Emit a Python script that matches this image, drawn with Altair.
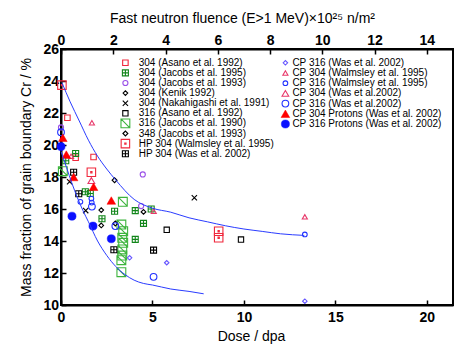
import altair as alt
import pandas as pd

FONT = "Liberation Sans"
X_DOMAIN = [0, 21.43]
Y_DOMAIN = [10, 26]
FLUENCE_DOMAIN = [0, 15]
X_TICKS = [0, 5, 10, 15, 20]
Y_TICKS = [10, 12, 14, 16, 18, 20, 22, 24, 26]
FLUENCE_TICKS = [0, 2, 4, 6, 8, 10, 12, 14]

# ---- data series (dose / dpa, Cr mass fraction / %) ----
asano304_x = [0.35, 0.8, 1.78]
asano304_y = [21.7, 19.2, 19.25]
jacobs95_x = [0.8, 0.26, 1.33, 1.6, 2.93, 2.24, 4.06, 4.51, 4.06, 4.93]
jacobs95_y = [19.47, 19.02, 17.08, 16.97, 15.86, 15.39, 15.9, 15.1, 14.1, 16.0]
jacobs93_x = [0.0, 4.47, 4.38]
jacobs93_y = [21.1, 18.16, 16.18]
kenik_x = [2.2, 2.2, 4.51]
kenik_y = [15.93, 14.97, 15.82]
nakahigashi_x = [0.47, 1.35, 7.29]
nakahigashi_y = [17.7, 15.9, 16.7]
asano316_x = [5.78, 9.84]
asano316_y = [14.7, 14.09]
jacobs90_x = [0.1, 3.38, 3.3, 3.4, 3.35, 3.4, 3.35, 3.35, 3.3, 3.3]
jacobs90_y = [18.36, 16.45, 15.03, 14.61, 14.2, 13.89, 13.47, 13.09, 12.8, 12.05]
jacobs348_x = [2.93, 2.97]
jacobs348_y = [17.8, 15.1]
hpwalmsley_x = [0.05, 1.66, 8.62, 8.62]
hpwalmsley_y = [23.74, 18.3, 14.61, 14.2]
hpwas_x = [0.69, 0.97, 2.89, 5.06]
hpwas_y = [18.3, 16.95, 13.45, 13.43]
cp316was_d_x = [3.75, 5.78, 13.33]
cp316was_d_y = [12.95, 12.64, 10.24]
cp304walmsley_x = [1.69, 0.55, 5.07, 13.33]
cp304walmsley_y = [21.39, 19.3, 15.86, 15.51]
cp316walmsley_x = [1.06, 1.66, 1.68, 13.33]
cp316walmsley_y = [16.45, 16.65, 16.4, 14.41]
cp304was_x = [1.66]
cp304was_y = [17.78]
cp316was_x = [0.0, 1.69, 2.97, 5.06]
cp316was_y = [20.8, 16.15, 14.93, 11.76]
cp304prot_x = [0.1, 0.29, 0.69, 1.78, 2.75]
cp304prot_y = [20.45, 19.4, 18.0, 17.39, 16.53]
cp316prot_x = [0.0, 0.6, 1.75, 2.75]
cp316prot_y = [19.9, 15.55, 14.93, 14.14]

# ---- fitted curves ----
upper_x = [0.05, 0.5, 1.0, 1.5, 2.0, 2.5, 3.0, 4.0, 5.0, 6.0, 7.0, 8.0, 9.0, 10.0, 11.0, 12.0, 13.3]
upper_y = [23.9, 22.7, 21.5, 20.3, 19.3, 18.5, 17.8, 16.6, 16.05, 15.8, 15.45, 15.2, 14.95, 14.75, 14.6, 14.45, 14.35]
lower_x = [0.0, 0.3, 0.6, 0.9, 1.2, 1.5, 2.0, 2.5, 3.0, 3.5, 4.0, 4.5, 5.0, 6.0, 7.0, 7.8]
lower_y = [19.6, 18.6, 17.6, 16.7, 15.9, 15.2, 14.0, 13.1, 12.4, 11.9, 11.55, 11.35, 11.25, 11.0, 10.85, 10.7]

# ---- symbol shapes ----
SQ = "M-1,-1L1,-1L1,1L-1,1Z"
SQ_PLUS = SQ + "M0,-1L0,1M-1,0L1,0"
SQ_DIAG = SQ + "M-1,-1L1,1"
SQ_DOT = SQ + "M-0.15,-0.15L0.15,-0.15L0.15,0.15L-0.15,0.15Z"
XSHAPE = "M-1,-1L1,1M-1,1L1,-1"

RED = "#f0283c"
PINK = "#e8386a"
GREEN = "#12861a"
LGREEN = "#3cb43c"
PURPLE = "#9a50e8"
VIOLET = "#6656ff"
BLUE = "#2030ff"
BLACK = "#000000"

series = [
    ("304 (Asano et al. 1992)", asano304_x, asano304_y, SQ, RED, False, 30, 0, 0),
    ("304 (Jacobs et al. 1995)", jacobs95_x, jacobs95_y, SQ_PLUS, GREEN, False, 36, 0, 1),
    ("304 (Jacobs et al. 1993)", jacobs93_x, jacobs93_y, "circle", PURPLE, False, 26, 0, 2),
    ("304 (Kenik 1992)", kenik_x, kenik_y, "diamond", BLACK, False, 22, 0, 3),
    ("304 (Nakahigashi et al. 1991)", nakahigashi_x, nakahigashi_y, XSHAPE, BLACK, False, 28, 0, 4),
    ("316 (Asano et al. 1992)", asano316_x, asano316_y, SQ, BLACK, False, 28, 0, 5),
    ("316 (Jacobs et al. 1990)", jacobs90_x, jacobs90_y, SQ_DIAG, LGREEN, False, 78, 0, 6),
    ("348 (Jacobs et al. 1993)", jacobs348_x, jacobs348_y, "diamond", BLACK, False, 24, 0, 7),
    ("HP 304 (Walmsley et al. 1995)", hpwalmsley_x, hpwalmsley_y, SQ_DOT, RED, False, 72, 0, 8),
    ("HP 304 (Was et al. 2002)", hpwas_x, hpwas_y, SQ_PLUS, BLACK, False, 36, 0, 9),
    ("CP 316 (Was et al. 2002)", cp316was_d_x, cp316was_d_y, "diamond", VIOLET, False, 20, 1, 0),
    ("CP 304 (Walmsley et al. 1995)", cp304walmsley_x, cp304walmsley_y, "triangle-up", PINK, False, 26, 1, 1),
    ("CP 316 (Walmsley et al. 1995)", cp316walmsley_x, cp316walmsley_y, "circle", BLUE, False, 22, 1, 2),
    ("CP 304 (Was et al.2002)", cp304was_x, cp304was_y, "triangle-up", PINK, False, 45, 1, 3),
    ("CP 316 (Was et al.2002)", cp316was_x, cp316was_y, "circle", BLUE, False, 45, 1, 4),
    ("CP 304 Protons (Was et al. 2002)", cp304prot_x, cp304prot_y, "triangle-up", "#ff0000", True, 75, 1, 5),
    ("CP 316 Protons (Was et al. 2002)", cp316prot_x, cp316prot_y, "circle", "#0a10ff", True, 66, 1, 6),
]

W, H = 392, 256
LEG_SYM_X = [64.4, 224.4]
LEG_TXT_X = [77.7, 231.4]
LEG_Y0 = 13.8
LEG_STEP = [10.1, 10.2]

xs = alt.Scale(domain=X_DOMAIN, nice=False, zero=False)
ys = alt.Scale(domain=Y_DOMAIN, nice=False, zero=False)

x_axis = alt.Axis(title="Dose / dpa", values=X_TICKS, tickSize={"expr": "-5"},
                  labelPadding=10, labelFlush=False, labelFont=FONT, labelFontSize=14,
                  labelFontWeight="bold", labelColor="black", titleFont=FONT,
                  titleFontSize=14, titleFontWeight="normal", titleColor="black",
                  titleX=190, titleY=31, titleBaseline="middle", titleAlign="center",
                  domainColor="black", domainWidth=2, tickColor="black", tickWidth=1.5,
                  grid=False)
y_axis = alt.Axis(title="Mass fraction of grain boundary Cr / %", values=Y_TICKS,
                  tickSize={"expr": "-5"}, labelPadding=7.5, labelFont=FONT,
                  labelFontSize=14, labelFontWeight="bold", labelColor="black",
                  titleFont=FONT, titleFontSize=14, titleFontWeight="normal",
                  titleColor="black", titleX=-35, titleY=128, titleBaseline="middle",
                  titleAlign="center", domainColor="black", domainWidth=2,
                  tickColor="black", tickWidth=1.5, grid=False)
top_axis = alt.Axis(orient="top", title="Fast neutron fluence (E>1 MeV)×10²⁵ n/m²",
                    values=FLUENCE_TICKS, tickSize={"expr": "-5"}, labelPadding=7,
                    labelFlush=False, labelFont=FONT, labelFontSize=14,
                    labelFontWeight="bold", labelColor="black", titleFont=FONT,
                    titleFontSize=14, titleFontWeight="normal", titleColor="black",
                    titleX=181, titleY=-31, titleBaseline="middle", titleAlign="center",
                    domainColor="black", domainWidth=2, tickColor="black",
                    tickWidth=1.5, grid=False)

layers = []
first = True
for name, sx, sy, shape, color, filled, size, col, row in series:
    df = pd.DataFrame({"dose": sx, "cr": sy})
    mk = dict(shape=shape, size=size, clip=False, opacity=1)
    if filled:
        mk.update(filled=True, fill=color, stroke=color, strokeWidth=0.5)
    else:
        mk.update(filled=False, stroke=color, color=color, strokeWidth=1.1)
    layers.append(
        alt.Chart(df).mark_point(**mk).encode(
            x=alt.X("dose:Q", scale=xs, axis=x_axis if first else None),
            y=alt.Y("cr:Q", scale=ys, axis=y_axis if first else None),
        )
    )
    first = False
    leg = pd.DataFrame({"lx": [LEG_SYM_X[col]], "ly": [LEG_Y0 + row * LEG_STEP[col]]})
    layers.append(
        alt.Chart(leg).mark_point(**mk).encode(
            x=alt.X("lx:Q", scale=None, axis=None),
            y=alt.Y("ly:Q", scale=None, axis=None),
        )
    )

for cx, cy in [(upper_x, upper_y), (lower_x, lower_y)]:
    layers.append(
        alt.Chart(pd.DataFrame({"dose": cx, "cr": cy})).mark_line(
            color="#2a3cff", strokeWidth=1, interpolate="monotone"
        ).encode(
            x=alt.X("dose:Q", scale=xs, axis=None),
            y=alt.Y("cr:Q", scale=ys, axis=None),
        )
    )

legend_text = pd.DataFrame({
    "label": [s[0] for s in series],
    "lx": [LEG_TXT_X[s[7]] for s in series],
    "ly": [LEG_Y0 + s[8] * LEG_STEP[s[7]] for s in series],
})
layers.append(
    alt.Chart(legend_text).mark_text(align="left", baseline="middle", font=FONT,
                                     fontSize=10, color="black").encode(
        x=alt.X("lx:Q", scale=None, axis=None),
        y=alt.Y("ly:Q", scale=None, axis=None),
        text="label:N",
    )
)

layers.append(
    alt.Chart(pd.DataFrame({"fluence": FLUENCE_TICKS})).mark_point(opacity=0).encode(
        x=alt.X("fluence:Q", scale=alt.Scale(domain=FLUENCE_DOMAIN, nice=False, zero=False),
                axis=top_axis),
    )
)

chart = alt.layer(*layers).resolve_scale(x="independent", y="independent").properties(
    width=W, height=H,
    autosize=alt.AutoSizeParams(type="none"),
    padding={"left": 61, "top": 49, "right": 20, "bottom": 47},
    background="white",
).configure_view(stroke="black", strokeWidth=2)

chart.save("out.html", embed_options={"renderer": "svg", "actions": False})
